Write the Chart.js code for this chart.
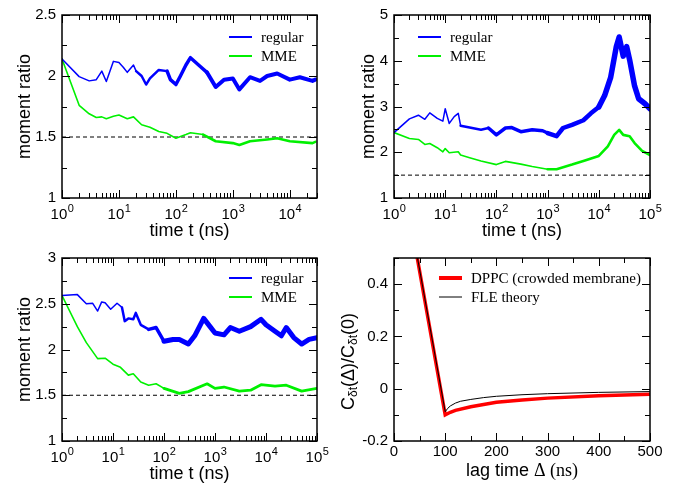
<!DOCTYPE html>
<html>
<head>
<meta charset="utf-8">
<title>moment ratio panels</title>
<script src="https://cdn.jsdelivr.net/npm/chart.js@4.4.1/dist/chart.umd.min.js"></script>
<style>
  html, body { margin: 0; padding: 0; background: #fff; }
  #figure { position: relative; width: 685px; height: 487px; overflow: hidden; }
  #figure canvas { position: absolute; }
</style>
</head>
<body>
<div id="figure">
  <canvas id="panelA" width="335" height="243" style="left:0;top:0"></canvas>
  <canvas id="panelB" width="350" height="243" style="left:335px;top:0"></canvas>
  <canvas id="panelC" width="335" height="244" style="left:0;top:243px"></canvas>
  <canvas id="panelD" width="350" height="244" style="left:335px;top:243px"></canvas>
</div>
<script>
'use strict';

/* global Chart */

// ---- values ----
const REF_LEVEL = 1.5;

// top left
const aRegularT = [1, 2, 3, 4, 5, 6, 8, 10, 12, 14, 18, 20, 25, 30, 35, 50, 70, 80, 100, 120,
  150, 180, 250, 350, 500, 700, 1000, 1300, 2000, 3000, 4000, 6000, 10000, 15000, 25000, 28000];
const aRegular = [2.14, 1.995, 1.96, 1.97, 2.04, 1.955, 2.12, 2.11, 2.07, 2.03, 2.09, 2.04, 2.0, 1.93, 1.98, 2.05, 2.04, 1.97, 1.93, 2.0,
  2.09, 2.15, 2.09, 2.03, 1.91, 1.97, 1.98, 1.89, 1.99, 1.96, 2.0, 2.02, 1.97, 1.99, 1.96, 1.97];
const aMmeT = [1, 2, 3, 4, 5, 6, 8, 10, 14, 18, 25, 35, 50, 70, 100, 150, 180, 300, 500, 1000,
  1300, 2000, 4000, 6000, 10000, 25000, 28000];
const aMme = [2.14, 1.76, 1.69, 1.66, 1.665, 1.65, 1.67, 1.68, 1.65, 1.665, 1.6, 1.58, 1.545, 1.53, 1.49, 1.52, 1.535, 1.52, 1.465, 1.45,
  1.435, 1.465, 1.48, 1.49, 1.465, 1.45, 1.46];
const aTicksY = [1, 1.5, 2, 2.5];

// top right
const bRegularT = [1, 2, 3, 4, 5, 7, 9, 10, 12, 15, 18, 20, 30, 50, 70, 100, 150, 200, 300, 500,
  800, 1000, 1500, 2000, 3000, 5000, 7000, 10000, 13000, 17000, 22000, 25000, 30000, 35000, 40000, 50000, 60000, 80000, 100000];
const bRegular = [2.43, 2.73, 2.81, 2.72, 2.86, 2.74, 2.68, 2.95, 2.63, 2.78, 2.85, 2.58, 2.54, 2.49, 2.53, 2.38, 2.53, 2.54, 2.45, 2.49,
  2.47, 2.42, 2.35, 2.53, 2.6, 2.7, 2.85, 2.99, 3.24, 3.63, 4.31, 4.52, 4.1, 4.31, 4.02, 3.45, 3.17, 3.06, 2.95];
const bMmeT = [1, 2, 3, 4, 5, 7, 9, 10, 12, 18, 20, 30, 50, 100, 150, 300, 500, 1000, 1500, 3000,
  5000, 10000, 15000, 20000, 25000, 30000, 40000, 50000, 70000, 100000];
const bMme = [2.43, 2.3, 2.28, 2.17, 2.19, 2.1, 2.01, 2.08, 1.99, 2.01, 1.94, 1.88, 1.81, 1.73, 1.8, 1.74, 1.69, 1.63, 1.63, 1.73,
  1.81, 1.92, 2.13, 2.38, 2.49, 2.38, 2.35, 2.2, 2.03, 1.94];
const bTicksY = [1, 2, 3, 4, 5];

// bottom left
const cRegularT = [1, 2, 3, 4, 5, 6, 7, 9, 12, 15, 17, 20, 25, 28, 35, 50, 70, 100, 150, 200,
  300, 400, 600, 800, 1000, 1500, 2000, 3000, 5000, 8000, 10000, 15000, 20000, 25000, 35000, 50000, 70000, 100000];
const cRegular = [2.59, 2.6, 2.5, 2.505, 2.42, 2.52, 2.51, 2.44, 2.505, 2.46, 2.31, 2.34, 2.33, 2.4, 2.27, 2.22, 2.24, 2.09, 2.11, 2.11,
  2.06, 2.15, 2.34, 2.25, 2.18, 2.16, 2.24, 2.2, 2.25, 2.33, 2.27, 2.2, 2.15, 2.24, 2.13, 2.06, 2.11, 2.13];
const cMmeT = [1, 2, 3, 5, 7, 10, 14, 20, 25, 35, 50, 70, 100, 200, 300, 700, 1000, 1500, 3000, 5000,
  8000, 15000, 25000, 50000, 100000];
const cMme = [2.59, 2.25, 2.075, 1.9, 1.905, 1.84, 1.805, 1.72, 1.735, 1.645, 1.61, 1.625, 1.575, 1.52, 1.54, 1.625, 1.575, 1.59, 1.545, 1.555,
  1.615, 1.6, 1.61, 1.545, 1.575];
const cTicksY = [1, 1.5, 2, 2.5, 3];

// bottom right
const dDppcLag = [0, 100, 110, 120, 150, 200, 250, 300, 400, 500];
const dDppc = [1.0, -0.1, -0.09, -0.083, -0.069, -0.052, -0.043, -0.036, -0.027, -0.021];
const dFleLag = [0, 100, 105, 110, 120, 130, 150, 175, 200, 250, 300, 400, 500];
const dFle = [1.0, -0.088, -0.075, -0.066, -0.055, -0.048, -0.041, -0.034, -0.029, -0.023, -0.019, -0.014, -0.011];
const dTicksX = [0, 100, 200, 300, 400, 500];
const dTicksY = [-0.2, 0, 0.2, 0.4];

// ---- look ----
const SANS = '"Liberation Sans", Arial, sans-serif';
const SERIF = '"Liberation Serif", "Times New Roman", serif';
const BLUE = '#0000ff';
const GREEN = '#00f000';
const RED = '#ff0000';
const MAJOR_LEN = 8;
const MINOR_LEN = 5;

Chart.defaults.font.family = SANS;
Chart.defaults.color = '#000';

const pts = (xs, ys) => xs.map((x, i) => ({ x, y: ys[i] }));

// noise bands of the traces are drawn as a wider stroke from a given time on
function bandWidth(bands) {
  return ctx => {
    const t = ctx.p0.parsed.x;
    let w = bands[0][1];
    bands.forEach(([from, width]) => { if (t >= from) w = width; });
    return w;
  };
}

function axisMarks(scale, isLog, minor, major) {
  const marks = [];
  if (isLog) {
    for (let p = Math.floor(Math.log10(scale.min)); Math.pow(10, p) <= scale.max; p++) {
      for (let m = 1; m <= 9; m++) {
        const v = m * Math.pow(10, p);
        if (v >= scale.min * 0.999 && v <= scale.max * 1.001) marks.push({ v, major: m === 1 });
      }
    }
  } else {
    const n = Math.round((scale.max - scale.min) / minor);
    for (let i = 0; i <= n; i++) {
      const v = scale.min + i * minor;
      const k = v / major;
      marks.push({ v, major: Math.abs(k - Math.round(k)) < 1e-6 });
    }
  }
  return marks;
}

// box frame, inward ticks on all four sides, 10^k labels on log axes
const frameTicks = {
  id: 'frameTicks',
  afterDatasetsDraw(chart, args, o) {
    const { ctx, chartArea: a } = chart;
    const xs = chart.scales.x, ys = chart.scales.y;
    ctx.save();
    ctx.strokeStyle = '#000';
    ctx.lineWidth = 1;
    ctx.beginPath();
    axisMarks(xs, o.xLog, o.xMinor, o.xMajor).forEach(m => {
      const px = Math.round(xs.getPixelForValue(m.v)) + 0.5;
      const len = m.major ? MAJOR_LEN : MINOR_LEN;
      ctx.moveTo(px, a.bottom); ctx.lineTo(px, a.bottom - len);
      ctx.moveTo(px, a.top); ctx.lineTo(px, a.top + len);
    });
    axisMarks(ys, false, o.yMinor, o.yMajor).forEach(m => {
      const py = Math.round(ys.getPixelForValue(m.v)) + 0.5;
      const len = m.major ? MAJOR_LEN : MINOR_LEN;
      ctx.moveTo(a.left, py); ctx.lineTo(a.left + len, py);
      ctx.moveTo(a.right, py); ctx.lineTo(a.right - len, py);
    });
    ctx.stroke();
    ctx.lineWidth = 1.5;
    ctx.strokeRect(a.left, a.top, a.width, a.height);

    if (o.xLog) {
      ctx.fillStyle = '#000';
      ctx.textBaseline = 'alphabetic';
      ctx.textAlign = 'left';
      const big = '15px ' + SANS, small = '11px ' + SANS;
      xs.ticks.forEach(t => {
        const p = String(Math.round(Math.log10(t.value)));
        ctx.font = big;
        const w1 = ctx.measureText('10').width;
        ctx.font = small;
        const w2 = ctx.measureText(p).width;
        const x0 = xs.getPixelForValue(t.value) - (w1 + w2) / 2;
        const base = a.bottom + o.labelGap;
        ctx.font = big;
        ctx.fillText('10', x0, base);
        ctx.font = small;
        ctx.fillText(p, x0 + w1 + 0.5, base - 7);
      });
    }
    ctx.restore();
  }
};

const insideLegend = {
  id: 'insideLegend',
  afterDatasetsDraw(chart, args, o) {
    const { ctx, chartArea: a } = chart;
    ctx.save();
    ctx.font = '15px ' + SERIF;
    ctx.textBaseline = 'middle';
    ctx.fillStyle = '#000';
    let row = 0;
    chart.data.datasets.forEach(ds => {
      if (!ds.label) return;
      const x = a.left + o.x;
      const y = a.top + o.y + row * 19;
      ctx.strokeStyle = ds.borderColor;
      ctx.lineWidth = ds.legendWidth || 2;
      ctx.beginPath();
      ctx.moveTo(x, y);
      ctx.lineTo(x + 23, y);
      ctx.stroke();
      ctx.fillText(ds.label, x + 32, y + 1);
      row++;
    });
    ctx.restore();
  }
};

function trace(label, xs, ys, color, bands) {
  return {
    label, data: pts(xs, ys), borderColor: color, borderWidth: bands[0][1],
    legendWidth: 2, pointRadius: 0, borderJoinStyle: 'round', borderCapStyle: 'round',
    segment: { borderWidth: bandWidth(bands) }
  };
}

function momentPanel(id, cfg) {
  const canvas = document.getElementById(id);
  return new Chart(canvas, {
    type: 'line',
    data: {
      datasets: [
        trace('regular', cfg.regT, cfg.reg, BLUE, cfg.regBands),
        trace('MME', cfg.mmeT, cfg.mme, GREEN, cfg.mmeBands),
        {
          data: [{ x: 1, y: REF_LEVEL }, { x: cfg.xMax, y: REF_LEVEL }],
          borderColor: '#000', borderWidth: 1, borderDash: [4, 3], pointRadius: 0
        }
      ]
    },
    options: {
      responsive: false,
      animation: false,
      layout: { padding: { left: 0, top: 11, right: cfg.padRight, bottom: 0 } },
      plugins: {
        legend: { display: false },
        tooltip: { enabled: false },
        frameTicks: { xLog: true, yMinor: cfg.yMinor, yMajor: cfg.yMajor, labelGap: 21 },
        insideLegend: { x: cfg.legendX, y: cfg.legendY }
      },
      scales: {
        x: {
          type: 'logarithmic', min: 1, max: cfg.xMax,
          afterBuildTicks: s => {
            const dec = [];
            for (let v = 1; v <= cfg.xMax; v *= 10) dec.push({ value: v });
            s.ticks = dec;
          },
          ticks: { display: false },
          grid: { display: false, drawTicks: false },
          border: { display: false },
          title: { display: true, text: 'time t (ns)', font: { size: 18 }, padding: { top: 0, bottom: cfg.xTitlePad } },
          afterFit: s => { s.height = canvas.height - 198; }
        },
        y: {
          type: 'linear', min: cfg.yTicks[0], max: cfg.yTicks[cfg.yTicks.length - 1],
          afterBuildTicks: s => { s.ticks = cfg.yTicks.map(v => ({ value: v })); },
          ticks: { font: { size: 15 }, padding: 6, callback: v => String(v) },
          grid: { display: false, drawTicks: false },
          border: { display: false },
          title: { display: true, text: 'moment ratio', font: { size: 18 }, padding: { top: cfg.yTitlePad, bottom: 0 } },
          afterFit: s => { s.width = cfg.plotLeft; }
        }
      }
    },
    plugins: [frameTicks, insideLegend]
  });
}

momentPanel('panelA', {
  regT: aRegularT, reg: aRegular, mmeT: aMmeT, mme: aMme, xMax: 30000,
  regBands: [[1, 1.5], [20, 2.5], [60, 3.5], [300, 4]], mmeBands: [[1, 1.6], [300, 2.6]],
  yTicks: aTicksY, yMinor: 0.25, yMajor: 0.5,
  plotLeft: 62, padRight: 18, legendX: 167, legendY: 22, xTitlePad: 1, yTitlePad: 14
});

momentPanel('panelB', {
  regT: bRegularT, reg: bRegular, mmeT: bMmeT, mme: bMme, xMax: 100000,
  regBands: [[1, 1.5], [20, 2.5], [60, 3.5], [1000, 4.5], [10000, 5.5]], mmeBands: [[1, 1.6], [1000, 2.6]],
  yTicks: bTicksY, yMinor: 0.5, yMajor: 1,
  plotLeft: 59, padRight: 35, legendX: 24, legendY: 22, xTitlePad: 1, yTitlePad: 23
});

momentPanel('panelC', {
  regT: cRegularT, reg: cRegular, mmeT: cMmeT, mme: cMme, xMax: 100000,
  regBands: [[1, 1.5], [15, 2.5], [40, 3.5], [100, 5]], mmeBands: [[1, 1.6], [100, 2.8]],
  yTicks: cTicksY, yMinor: 0.25, yMajor: 0.5,
  plotLeft: 62, padRight: 18, legendX: 167, legendY: 20, xTitlePad: 2, yTitlePad: 14
});

// bottom right: rich axis titles with sub-scripts and a serif part
function drawRuns(ctx, runs, cx, cy) {
  let total = 0;
  runs.forEach(r => { ctx.font = r[1]; total += ctx.measureText(r[0]).width; });
  let x = cx - total / 2;
  runs.forEach(r => {
    ctx.font = r[1];
    ctx.fillText(r[0], x, cy + (r[2] || 0));
    x += ctx.measureText(r[0]).width;
  });
}

const lagTitles = {
  id: 'lagTitles',
  afterDraw(chart) {
    const { ctx, chartArea: a } = chart;
    const main = '18px ' + SANS, sub = '12px ' + SANS;
    ctx.save();
    ctx.fillStyle = '#000';
    ctx.textAlign = 'left';
    ctx.textBaseline = 'middle';
    drawRuns(ctx, [['lag time ', main], ['\u0394 (ns)', '18px ' + SERIF]], (a.left + a.right) / 2, 228);
    ctx.translate(14, (a.top + a.bottom) / 2 + 12);
    ctx.rotate(-Math.PI / 2);
    drawRuns(ctx, [['C', main], ['\u03b4t', sub, 5], ['(\u0394)/C', main], ['\u03b4t', sub, 5], ['(0)', main]], 0, 0);
    ctx.restore();
  }
};

const canvasD = document.getElementById('panelD');
new Chart(canvasD, {
  type: 'line',
  data: {
    datasets: [
      {
        label: 'DPPC (crowded membrane)', data: pts(dDppcLag, dDppc), borderColor: RED,
        borderWidth: 3.5, legendWidth: 4, pointRadius: 0, order: 1
      },
      {
        label: 'FLE theory', data: pts(dFleLag, dFle), borderColor: '#000',
        borderWidth: 1, legendWidth: 1, pointRadius: 0, order: 0
      }
    ]
  },
  options: {
    responsive: false,
    animation: false,
    layout: { padding: { left: 0, top: 11, right: 35, bottom: 0 } },
    plugins: {
      legend: { display: false },
      tooltip: { enabled: false },
      frameTicks: { xLog: false, xMinor: 50, xMajor: 100, yMinor: 0.1, yMajor: 0.2 },
      insideLegend: { x: 45, y: 20 }
    },
    scales: {
      x: {
        type: 'linear', min: 0, max: 500,
        afterBuildTicks: s => { s.ticks = dTicksX.map(v => ({ value: v })); },
        ticks: { font: { size: 15 }, padding: 2, maxRotation: 0 },
        grid: { display: false, drawTicks: false },
        border: { display: false },
        afterFit: s => { s.height = canvasD.height - 198; }
      },
      y: {
        type: 'linear', min: -0.2, max: 0.5,
        afterBuildTicks: s => { s.ticks = dTicksY.map(v => ({ value: v })); },
        ticks: { font: { size: 15 }, padding: 6, callback: v => String(v) },
        grid: { display: false, drawTicks: false },
        border: { display: false },
        afterFit: s => { s.width = 59; }
      }
    }
  },
  plugins: [frameTicks, insideLegend, lagTitles]
});
</script>
</body>
</html>
